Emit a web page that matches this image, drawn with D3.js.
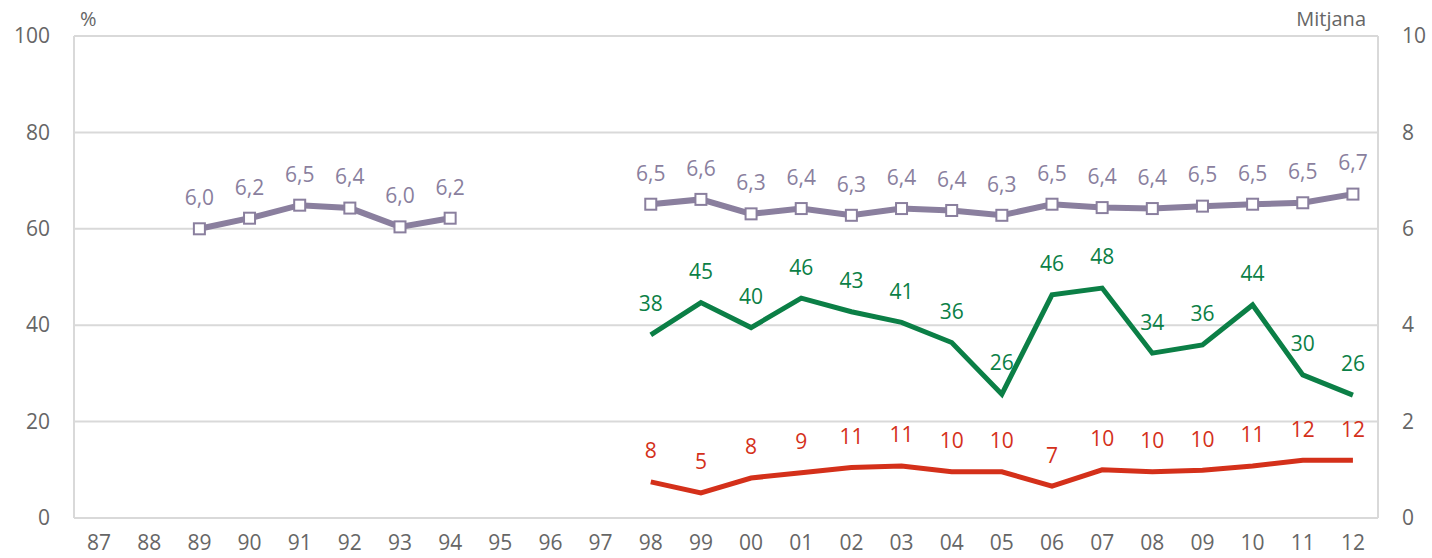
<!DOCTYPE html>
<html><head><meta charset="utf-8">
<script src="https://cdn.jsdelivr.net/npm/d3@7"></script>
<style>
html,body{margin:0;padding:0;background:#fff;}
svg{display:block;font-family:"Open Sans",sans-serif;}
</style></head>
<body><svg id="c" width="1432" height="558"></svg>
<script>
const years = ["87","88","89","90","91","92","93","94","95","96","97","98","99","00","01","02","03","04","05","06","07","08","09","10","11","12"];
const leftTicks = [0,20,40,60,80,100];
const rightTicks = [0,2,4,6,8,10];
// Mitjana (right axis, 0-10)
const mitjana = [null,null,6.0,6.22,6.49,6.43,6.04,6.22,null,null,null,6.51,6.61,6.31,6.42,6.28,6.42,6.38,6.28,6.51,6.44,6.42,6.47,6.51,6.54,6.72];
// Green series (%)
const green = [null,null,null,null,null,null,null,null,null,null,null,38.0,44.7,39.5,45.6,42.8,40.6,36.4,25.7,46.3,47.7,34.2,35.9,44.2,29.7,25.5];
// Red series (%)
const red = [null,null,null,null,null,null,null,null,null,null,null,7.5,5.2,8.3,9.4,10.5,10.8,9.6,9.6,6.6,10.0,9.6,9.9,10.8,12.0,12.0];

const svg = d3.select("#c");
const m = {l:74, r:1378, t:36, b:518};
const x = d3.scaleBand().domain(years).range([m.l, m.r]);
const xc = d => x(d) + x.bandwidth()/2;
const yL = d3.scaleLinear().domain([0,100]).range([m.b, m.t]);
const yR = d3.scaleLinear().domain([0,10]).range([m.b, m.t]);
const grid = "#d9d9d9", txt = "#666666";
const cPur = "#8a7f9e", cGreen = "#0b7f46", cRed = "#d4301a";

svg.append("g").selectAll("line").data(leftTicks).join("line")
  .attr("x1", m.l).attr("x2", m.r).attr("y1", d => yL(d)).attr("y2", d => yL(d))
  .attr("stroke", grid).attr("stroke-width", 2);
svg.append("line").attr("x1", m.l).attr("x2", m.l).attr("y1", m.t).attr("y2", m.b).attr("stroke", grid).attr("stroke-width", 2);
svg.append("line").attr("x1", m.r).attr("x2", m.r).attr("y1", m.t).attr("y2", m.b).attr("stroke", grid).attr("stroke-width", 2);

const axL = svg.append("g").attr("transform", `translate(${m.l},0)`)
  .call(d3.axisLeft(yL).tickValues(leftTicks).tickSize(0).tickPadding(24));
const axR = svg.append("g").attr("transform", `translate(${m.r},0)`)
  .call(d3.axisRight(yR).tickValues(rightTicks).tickSize(0).tickPadding(24));
const axB = svg.append("g").attr("transform", `translate(0,${m.b})`)
  .call(d3.axisBottom(x).tickSize(0).tickPadding(17));
[axL, axR, axB].forEach(a => {
  a.select(".domain").remove();
  a.selectAll("text").attr("fill", txt).style("font-size", "21px").style("font-family", '"Open Sans",sans-serif');
});

svg.append("text").attr("x", 80).attr("y", 26).attr("fill", txt).style("font-size", "20px").text("%");
svg.append("text").attr("x", 1366).attr("y", 26).attr("text-anchor", "end").attr("fill", txt).style("font-size", "20px").text("Mitjana");

function drawSeries(vals, y, color, width, fmt, markers) {
  const pts = years.map((yr, i) => ({yr, v: vals[i]}));
  const line = d3.line().defined(d => d.v != null).x(d => xc(d.yr)).y(d => y(d.v));
  svg.append("path").datum(pts).attr("d", line).attr("fill", "none")
    .attr("stroke", color).attr("stroke-width", width).attr("stroke-linejoin", "miter");
  const valid = pts.filter(d => d.v != null);
  if (markers) {
    svg.append("g").selectAll("rect").data(valid).join("rect")
      .attr("x", d => xc(d.yr) - 5.5).attr("y", d => y(d.v) - 5.5)
      .attr("width", 11).attr("height", 11).attr("fill", "#fff")
      .attr("stroke", color).attr("stroke-width", 2);
  }
  svg.append("g").selectAll("text").data(valid).join("text")
    .attr("x", d => xc(d.yr)).attr("y", d => y(d.v) - 31)
    .attr("dy", "0.35em").attr("text-anchor", "middle")
    .attr("fill", color).style("font-size", "21px").text(d => fmt(d.v));
}

drawSeries(mitjana, yR, cPur, 6, v => v.toFixed(1).replace(".", ","), true);
drawSeries(green, yL, cGreen, 5, v => String(Math.round(v)), false);
drawSeries(red, yL, cRed, 5, v => String(Math.round(v)), false);
</script></body></html>
